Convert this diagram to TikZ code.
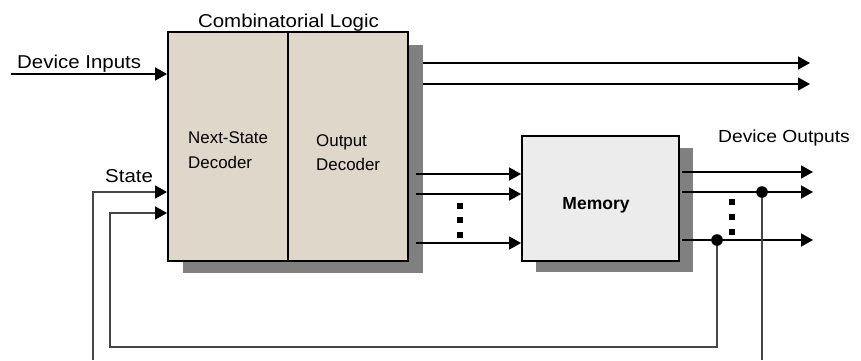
\documentclass[tikz,border=0pt]{standalone}
\usepackage{fontspec}
\setmainfont{Liberation Sans}
\newfontfamily\lblfont[FakeStretch=1.1]{Liberation Sans}
\usetikzlibrary{arrows.meta}
\definecolor{granite}{RGB}{223,215,202}
\definecolor{memfill}{RGB}{236,236,236}
\definecolor{shadowgray}{RGB}{128,128,128}
\definecolor{fbline}{RGB}{70,70,70}
\tikzset{
  tipstyle/.tip={Triangle[length=12pt,width=13pt,color=black,fill=black]},
  sig/.style={line width=1.4pt,-tipstyle},
  fbsig/.style={line width=1.1pt,draw=fbline,-tipstyle},
  fbl/.style={line width=1.1pt,draw=fbline},
  blockbox/.style={draw,line width=1.8pt,inner sep=0pt},
  lbl/.style={inner sep=0pt,anchor=base west,font=\lblfont\fontsize{18.6}{20}\selectfont},
  inlbl/.style={inner sep=0pt,anchor=base west,font=\fontsize{16.9}{18}\selectfont},
  sq/.style={fill=black,inner sep=0pt,minimum size=6pt},
}
\begin{document}
\begin{tikzpicture}[x=1pt,y=-1pt]
\useasboundingbox (0,0) rectangle (861,360);
% shadows
\fill[shadowgray] (183,45) rectangle (423,273);
\fill[shadowgray] (536,148) rectangle (693,272);
% blocks
\node[blockbox,fill=granite,minimum width=240pt,minimum height=229pt] (cl) at (288,146.5) {};
\draw[line width=1.3pt] (cl.north) -- (cl.south);
\node[blockbox,fill=memfill,minimum width=157pt,minimum height=125pt] (mem) at (600.5,198.5) {};
% labels
\node[lbl,anchor=base] (title) at (288.5,27) {Combinatorial Logic};
\node[lbl] (din) at (17,68) {Device Inputs};
\node[inlbl] (ns1) at (188,143) {Next-State};
\node[inlbl] (ns2) at (188,168) {Decoder};
\node[inlbl] (od1) at (316,146) {Output};
\node[inlbl] (od2) at (316,170) {Decoder};
\node[lbl] (st) at (105,182) {State};
\node[lbl,font=\lblfont\fontsize{17.5}{19}\selectfont] (dout) at (718,142) {Device Outputs};
\node[inner sep=0pt,anchor=base,font=\bfseries\fontsize{17.5}{19}\selectfont] (memlbl) at (596,209) {Memory};
% coordinates
\coordinate (inS) at (11,74);
\coordinate (o1s) at (423,63);
\coordinate (o1e) at (810,63);
\coordinate (o2s) at (423,84);
\coordinate (o2e) at (810,84);
\coordinate (m1s) at (416,174);
\coordinate (m2s) at (416,194);
\coordinate (m3s) at (416,243);
\coordinate (q1s) at (682,172);
\coordinate (q1e) at (813,172);
\coordinate (q2s) at (682,192);
\coordinate (q2e) at (813,192);
\coordinate (q3s) at (682,240);
\coordinate (q3e) at (813,240);
\coordinate (ja) at (762,192);
\coordinate (jb) at (717,240);
\coordinate (fa1) at (762,360);
\coordinate (fa2) at (93,360);
\coordinate (fb1) at (717,347);
\coordinate (fb2) at (110,347);
% signal arrows
\draw[sig] (inS) -- (inS -| cl.west);
\draw[sig] (o1s) -- (o1e);
\draw[sig] (o2s) -- (o2e);
\draw[sig] (m1s) -- (m1s -| mem.west);
\draw[sig] (m2s) -- (m2s -| mem.west);
\draw[sig] (m3s) -- (m3s -| mem.west);
\draw[sig] (q1s) -- (q1e);
\draw[sig] (q2s) -- (q2e);
\draw[sig] (q3s) -- (q3e);
% feedback
\draw[fbl] (ja) -- (fa1);
\draw[fbsig] (fa2) -- (93,192) -- (cl.west |- 0,192);
\draw[fbsig] (jb) -- (fb1) -- (fb2) -- (110,213) -- (cl.west |- 0,213);
\fill (ja) circle (5.8pt);
\fill (jb) circle (5.8pt);
% ellipsis dots
\node[sq] (d1) at (460,206) {};
\node[sq] (d2) at (460,220) {};
\node[sq] (d3) at (460,235) {};
\node[sq] (e1) at (732,202) {};
\node[sq] (e2) at (732,217) {};
\node[sq] (e3) at (732,232) {};
\end{tikzpicture}
\end{document}
